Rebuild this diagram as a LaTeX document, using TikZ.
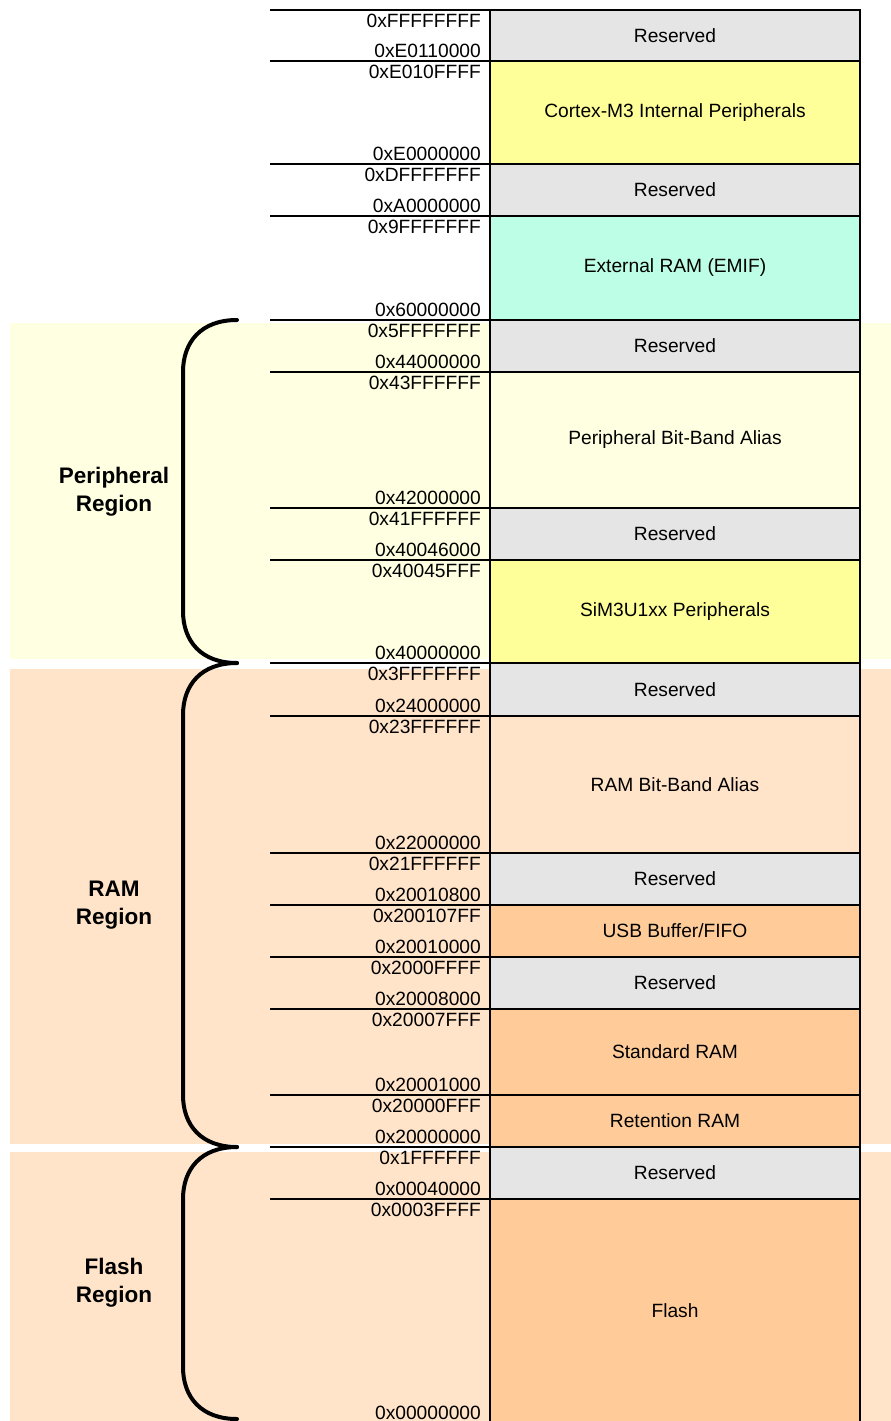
\documentclass[tikz,border=0pt]{standalone}
\usepackage{fontspec}
\setmainfont{Liberation Sans}
\usetikzlibrary{positioning}

\definecolor{resv}{HTML}{E5E5E5}
\definecolor{cortex}{HTML}{FFFF99}
\definecolor{extram}{HTML}{BDFFE6}
\definecolor{perbg}{HTML}{FFFFE1}
\definecolor{sim}{HTML}{FFFF99}
\definecolor{rambg}{HTML}{FFE4CA}
\definecolor{ramblk}{HTML}{FFCC99}

\tikzset{
  memblk/.style={draw=black, line width=2.4pt, minimum width=370pt, inner sep=0pt,
    outer sep=0pt, font=\fontsize{19.2}{21}\selectfont},
  addr/.style={inner sep=0pt, font=\fontsize{19.2}{21}\selectfont},
  tick/.style={line width=1.2pt},
  brace/.style={line width=4pt, line cap=round},
  region/.style={align=center, font=\fontsize{22.5}{28}\selectfont\bfseries}
}

\begin{document}
\begin{tikzpicture}[x=1pt,y=-1pt]
  \useasboundingbox (0,0) rectangle (891,1421);
  % region backgrounds
  \fill[perbg] (10,323) rectangle (891,659);
  \fill[rambg] (10,669) rectangle (891,1144);
  \fill[rambg] (10,1152) rectangle (891,1421);

  % memory map, top to bottom
  \foreach \ys/\ye/\clr/\txt/\hi/\lo [count=\idx] in {
    10/61/resv/Reserved/0xFFFFFFFF/0xE0110000,
    61/164/cortex/Cortex-M3 Internal Peripherals/0xE010FFFF/0xE0000000,
    164/216/resv/Reserved/0xDFFFFFFF/0xA0000000,
    216/320/extram/External RAM (EMIF)/0x9FFFFFFF/0x60000000,
    320/372/resv/Reserved/0x5FFFFFFF/0x44000000,
    372/508/perbg/Peripheral Bit-Band Alias/0x43FFFFFF/0x42000000,
    508/560/resv/Reserved/0x41FFFFFF/0x40046000,
    560/663/sim/SiM3U1xx Peripherals/0x40045FFF/0x40000000,
    663/716/resv/Reserved/0x3FFFFFFF/0x24000000,
    716/853/rambg/RAM Bit-Band Alias/0x23FFFFFF/0x22000000,
    853/905/resv/Reserved/0x21FFFFFF/0x20010800,
    905/957/ramblk/{USB Buffer/FIFO}/0x200107FF/0x20010000,
    957/1009/resv/Reserved/0x2000FFFF/0x20008000,
    1009/1095/ramblk/Standard RAM/0x20007FFF/0x20001000,
    1095/1147/ramblk/Retention RAM/0x20000FFF/0x20000000,
    1147/1199/resv/Reserved/0x1FFFFFF/0x00040000,
    1199/1422.5/ramblk/Flash/0x0003FFFF/0x00000000}
  {
    \node[memblk, fill=\clr, minimum height={(\ye-\ys)*1pt}] (m\idx) at (675,{(\ys+\ye)/2}) {\txt};
    \draw[tick] (m\idx.north west) -- ++(-220,0) coordinate (t\idx);
    \node[addr, anchor=north east] (hi\idx) at ([xshift=-9pt,yshift=-4pt]m\idx.north west) {\hi};
    \node[addr, anchor=south east] (lo\idx) at ([xshift=-9pt,yshift=3pt]m\idx.south west) {\lo};
  }

  % braces and region names
  \foreach \ya/\yb/\lab/\nm in {320/663/Peripheral\\Region/per,
    663/1147/RAM\\Region/ram, 1147/1419/Flash\\Region/fla}
  {
    \coordinate (\nm a) at (237,\ya);
    \coordinate (\nm b) at (237,\yb);
    \draw[brace] (\nm a) .. controls +(-36,0) and +(0,-30) .. (183,{\ya+52})
      -- (183,{\yb-52}) .. controls +(0,30) and +(-36,0) .. (\nm b);
    \node[region] (\nm) at (114,{(\ya+\yb)/2}) {\lab};
  }
\end{tikzpicture}
\end{document}
